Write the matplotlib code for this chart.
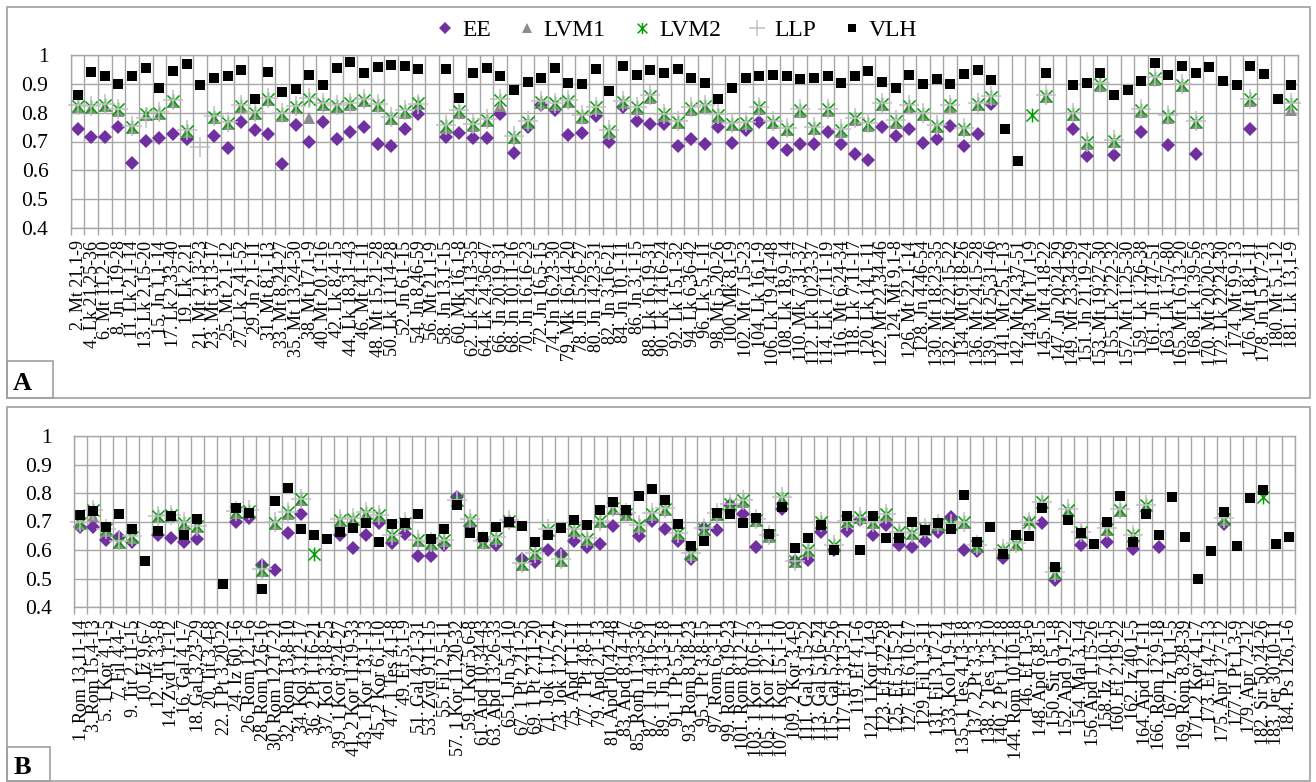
import numpy as np
import matplotlib
matplotlib.use('Agg')
import matplotlib.pyplot as plt
from matplotlib.path import Path
from matplotlib.patches import Rectangle

plt.rcParams['font.family'] = ['Liberation Serif', 'DejaVu Serif']

N = None

# ---- panel A: gospel readings
labels_a = [
    '2. Mt 21,1-9', '4. Lk 21,25-36', '6. Mt 11,2-10', '8. Jn 1,19-28', '11. Lk 2,1-14',
    '13. Lk 2,15-20', '15. Jn 1,1-14', '17. Lk 2,33-40', '19. Lk 2,21', '21. Mt 2,13-23',
    '23. Mt 3,13-17', '25. Mt 2,1-12', '27. Lk 2,41-52', '29. Jn 2,1-11', '31. Mt 8,1-13',
    '33. Mt 8,24-27', '35. Mt 13,24-30', '38. Mt 17,1-9', '40. Mt 20,1-16', '42. Lk 8,4-15',
    '44. Lk 18,31-43', '46. Mt 4,1-11', '48. Mt 15,21-28', '50. Lk 11,14-28', '52. Jn 6,1-15',
    '54. Jn 8,46-59', '56. Mt 21,1-9', '58. Jn 13,1-15', '60. Mk 16,1-8', '62. Lk 24,13-35',
    '64. Lk 24,36-47', '66. Jn 20,19-31', '68. Jn 10,11-16', '70. Jn 16,16-23', '72. Jn 16,5-15',
    '74. Jn 16,23-30', '79. Mk 16,14-20', '78. Jn 15,26-27', '80. Jn 14,23-31', '82. Jn 3,16-21',
    '84. Jn 10,1-11', '86. Jn 3,1-15', '88. Lk 16,19-31', '90. Lk 14,16-24', '92. Lk 15,1-32',
    '94. Lk 6,36-42', '96. Lk 5,1-11', '98. Mt 5,20-26', '100. Mk 8,1-9', '102. Mt 7,15-23',
    '104. Lk 16,1-9', '106. Lk 19,41-48', '108. Lk 18,9-14', '110. Mk 7,31-37', '112. Lk 10,23-37',
    '114. Lk 17,11-19', '116. Mt 6,24-34', '118. Lk 7,11-17', '120. Lk 14,1-11', '122. Mt 22,34-46',
    '124. Mt 9,1-8', '126. Mt 22,1-14', '128. Jn 4,46-54', '130. Mt 18,23-35', '132. Mt 22,15-22',
    '134. Mt 9,18-26', '136. Mt 24,15-28', '139. Mt 25,31-46', '141. Mt 25,1-13', '142. Mt 24,37-51',
    '143. Mt 17,1-9', '145. Mt 4,18-22', '147. Jn 20,24-29', '149. Mt 23,34-39', '151. Jn 21,19-24',
    '153. Mt 19,27-30', '155. Lk 2,22-32', '157. Mt 11,25-30', '159. Lk 1,26-38', '161. Jn 1,47-51',
    '163. Lk 1,57-80', '165. Mt 16,13-20', '168. Lk 1,39-56', '170. Mt 20,20-23', '172. Lk 22,24-30',
    '174. Mt 9,9-13', '176. Mt 18,1-11', '178. Jn 15,17-21', '180. Mt 5,1-12', '181. Lk 13,1-9',
]

ee_a = [
    0.743, 0.716, 0.716, 0.750, 0.627, 0.701, 0.713, 0.727, 0.710, N,
    0.720, 0.676, 0.766, 0.740, 0.725, 0.621, 0.757, 0.700, 0.766, 0.709,
    0.732, 0.750, 0.690, 0.684, 0.745, 0.797, N, 0.714, 0.730, 0.713,
    0.713, 0.797, 0.660, 0.751, 0.826, 0.809, 0.724, 0.730, 0.788, 0.699,
    0.818, 0.771, 0.762, 0.762, 0.684, 0.710, 0.690, 0.751, 0.695, 0.739,
    0.768, 0.695, 0.670, 0.693, 0.693, 0.733, 0.690, 0.658, 0.635, 0.750,
    0.718, 0.745, 0.695, 0.709, 0.753, 0.686, 0.727, 0.829, N, N,
    N, N, N, 0.743, 0.651, N, 0.652, N, 0.734, N,
    0.689, N, 0.656, N, N, N, 0.744, N, N, N,
]

lvm1_a = [
    0.818, 0.815, 0.822, 0.806, 0.747, 0.792, 0.796, 0.836, 0.732, N,
    0.781, 0.760, 0.818, 0.795, 0.845, 0.790, 0.815, 0.783, 0.825, 0.818,
    0.828, 0.840, 0.822, 0.778, 0.800, 0.830, N, 0.748, 0.800, 0.754,
    0.771, 0.823, 0.712, 0.763, 0.833, 0.828, 0.836, 0.783, 0.813, 0.731,
    0.833, 0.813, 0.852, 0.789, 0.763, 0.810, 0.818, 0.786, 0.757, 0.760,
    0.813, 0.763, 0.740, 0.804, 0.742, 0.806, 0.734, 0.775, 0.755, 0.825,
    0.765, 0.818, 0.791, 0.750, 0.820, 0.739, 0.826, 0.849, N, N,
    N, 0.853, N, 0.791, 0.692, 0.894, 0.698, N, 0.803, 0.915,
    0.783, 0.891, 0.764, N, N, N, 0.841, N, N, 0.810,
]

lvm2_a = [
    0.823, 0.820, 0.826, 0.811, 0.751, 0.797, 0.800, 0.840, 0.736, N,
    0.786, 0.765, 0.823, 0.800, 0.849, 0.795, 0.820, 0.847, 0.830, 0.823,
    0.832, 0.844, 0.826, 0.782, 0.805, 0.835, N, 0.753, 0.805, 0.759,
    0.776, 0.844, 0.716, 0.768, 0.838, 0.832, 0.841, 0.788, 0.818, 0.736,
    0.838, 0.818, 0.857, 0.794, 0.768, 0.815, 0.823, 0.791, 0.762, 0.765,
    0.818, 0.768, 0.745, 0.809, 0.747, 0.811, 0.739, 0.780, 0.760, 0.830,
    0.770, 0.823, 0.796, 0.755, 0.825, 0.744, 0.831, 0.854, N, N,
    0.791, 0.858, N, 0.796, 0.697, 0.899, 0.703, N, 0.808, 0.920,
    0.788, 0.896, 0.769, N, N, N, 0.846, N, N, 0.831,
]

llp_a = [
    0.826, 0.823, 0.829, 0.814, 0.754, 0.783, 0.803, 0.843, 0.739, 0.680,
    0.789, 0.768, 0.826, 0.803, 0.852, 0.798, 0.823, 0.850, 0.833, 0.826,
    0.835, 0.847, 0.829, 0.785, 0.808, 0.830, N, 0.756, 0.808, 0.762,
    0.779, 0.847, 0.719, 0.771, 0.841, 0.835, 0.844, 0.791, 0.821, 0.739,
    0.841, 0.821, 0.860, 0.797, 0.771, 0.818, 0.826, 0.794, 0.765, 0.768,
    0.821, 0.771, 0.748, 0.812, 0.750, 0.814, 0.742, 0.783, 0.763, 0.833,
    0.773, 0.826, 0.799, 0.758, 0.828, 0.747, 0.834, 0.857, N, N,
    N, 0.861, N, 0.799, 0.700, 0.902, 0.706, N, 0.811, 0.923,
    0.791, 0.899, 0.772, N, N, N, 0.849, N, N, 0.834,
]

vlh_a = [
    0.863, 0.942, 0.926, 0.900, 0.926, 0.956, 0.885, 0.944, 0.969, 0.895,
    0.921, 0.926, 0.948, 0.849, 0.940, 0.870, 0.881, 0.929, 0.895, 0.956,
    0.976, 0.937, 0.959, 0.964, 0.962, 0.952, N, 0.950, 0.852, 0.937,
    0.955, 0.926, 0.877, 0.908, 0.921, 0.956, 0.902, 0.900, 0.952, 0.875,
    0.963, 0.929, 0.947, 0.936, 0.951, 0.921, 0.903, 0.848, 0.885, 0.919,
    0.926, 0.929, 0.927, 0.918, 0.919, 0.927, 0.903, 0.926, 0.944, 0.906,
    0.886, 0.932, 0.901, 0.918, 0.901, 0.935, 0.948, 0.913, 0.745, 0.632,
    N, 0.939, N, 0.897, 0.902, 0.939, 0.860, 0.878, 0.909, 0.972,
    0.932, 0.962, 0.938, 0.957, 0.911, 0.895, 0.962, 0.934, 0.847, 0.895,
]

# ---- panel B: epistle readings
labels_b = [
    '1. Rom 13,11-14', '3. Rom 15,4-13', '5. 1 Kor 4,1-5', '7. Fil 4,4-7', '9. Tit 2,11-15',
    '10. Iz 9,6-7', '12. Tit 3,3-8', '14. Zyd 1,1-12', '16. Gal 4,1-7', '18. Gal 3,23-29',
    '20. Tit 3,4-8', '22. 1 Pt 3,20-22', '24. Iz 60,1-6', '26. Rom 12,1-6', '28. Rom 12,6-16',
    '30. Rom 12,17-21', '32. Rom 13,8-10', '34. Kol 3,12-17', '36. 2 Pt 1,16-21', '37. Kol 3,18-25',
    '39. 1 Kor 9,24-27', '41. 2 Kor 11,19-33', '43. 1 Kor 13,1-13', '45. 2 Kor 6,1-10', '47. 1 Tes 4,1-8',
    '49. Ef 5,1-9', '51. Gal 4,21-31', '53. Zyd 9,11-15', '55. Fil 2,5-11', '57. 1 Kor 11,20-32',
    '59. 1 Kor 5,6-8', '61. Apd 10,34-43', '63. Apd 13,26-33', '65. 1 Jn 5,4-10', '67. 1 Pt 2,21-25',
    '69. 1 Pt 2,11-20', '71. Jok 1,17-21', '73. Jok 1,22-27', '75. Apd 1,1-11', '77. 1 Pt 4,8-11',
    '79. Apd 2,1-13', '81. Apd 10,42-48', '83. Apd 8,14-17', '85. Rom 11,33-36', '87. 1 Jn 4,16-21',
    '89. 1 Jn 3,13-18', '91. 1 Pt 5,5-11', '93. Rom 8,18-23', '95. 1 Pt 3,8-15', '97. Rom 6,3-11',
    '99. Rom 6,19-23', '101. Rom 8,12-17', '103. 1 Kor 10,6-13', '105. 1 Kor 12,1-11', '107. 1 Kor 15,1-10',
    '109. 2 Kor 3,4-9', '111. Gal 3,15-22', '113. Gal 5,16-24', '115. Gal 5,25-26', '117. Ef 3,13-21',
    '119. Ef 4,1-6', '121. 1 Kor 1,4-9', '123. Ef 4,22-28', '125. Ef 5,15-21', '127. Ef 6,10-17',
    '129. Fil 1,3-11', '131. Fil 3,17-21', '133. Kol 1,9-14', '135. 1 Tes 4,13-18', '137. 2 Pt 3,3-13',
    '138. 2 Tes 1,3-10', '140. 2 Pt 1,12-18', '144. Rom 10,10-18', '146. Ef 1,3-6', '148. Apd 6,8-15',
    '150. Sir 15,1-8', '152. Apd 9,1-22', '154. Mal 3,1-4', '156. Apd 1,15-26', '158. Iz 7,10-15',
    '160. Ef 2,19-22', '162. Iz 40,1-5', '164. Apd 12,1-11', '166. Rom 12,9-18', '167. Iz 11,1-5',
    '169. Rom 8,28-39', '171. 2 Kor 4,1-7', '173. Ef 4,7-13', '175. Apr 12,7-12', '177. 1 Pt 1,3-9',
    '179. Apr 7,2-12', '182. Sir 50,24-26', '183. Jer 30,10-11', '184. Ps 126,1-6',
]

ee_b = [
    0.681, 0.679, 0.634, 0.646, 0.628, N, 0.652, 0.642, 0.628, 0.638,
    N, N, 0.699, 0.713, 0.546, 0.531, 0.660, 0.726, N, N,
    0.652, 0.607, 0.652, 0.693, 0.623, 0.655, 0.578, 0.578, 0.617, 0.785,
    0.683, 0.634, 0.616, 0.700, 0.568, 0.557, 0.600, 0.586, 0.631, 0.610,
    0.622, 0.684, 0.727, 0.650, 0.703, 0.674, 0.633, 0.568, 0.676, 0.671,
    0.758, 0.727, 0.612, 0.651, 0.745, 0.563, 0.565, 0.663, 0.600, 0.667,
    0.707, 0.651, 0.687, 0.618, 0.612, 0.632, 0.663, 0.715, 0.600, 0.596,
    N, 0.572, N, N, 0.694, 0.495, N, 0.616, N, 0.628,
    N, 0.604, N, 0.610, N, N, N, N, 0.690, N,
    N, N, N, N,
]

lvm1_b = [
    0.692, 0.720, 0.668, 0.624, 0.642, N, 0.715, 0.718, 0.691, 0.679,
    N, N, 0.730, 0.733, 0.527, 0.691, 0.728, 0.774, N, N,
    0.703, 0.706, 0.726, 0.718, 0.648, 0.691, 0.630, 0.621, 0.630, 0.771,
    0.703, 0.624, 0.639, 0.699, 0.547, 0.585, 0.667, 0.561, 0.667, 0.636,
    0.697, 0.744, 0.723, 0.682, 0.723, 0.741, 0.655, 0.582, 0.670, 0.724,
    0.756, 0.770, 0.703, 0.647, 0.780, 0.557, 0.595, 0.694, 0.612, 0.697,
    0.711, 0.694, 0.721, 0.658, 0.655, 0.671, 0.686, 0.686, 0.694, 0.610,
    N, 0.605, 0.617, 0.705, 0.764, 0.517, 0.737, 0.658, N, 0.670,
    0.737, 0.647, 0.753, N, N, N, N, N, 0.706, N,
    N, N, N, N,
]

lvm2_b = [
    0.695, 0.740, 0.672, 0.628, 0.646, N, 0.719, 0.722, 0.695, 0.683,
    N, N, 0.734, 0.737, 0.531, 0.695, 0.732, 0.778, 0.585, N,
    0.707, 0.710, 0.730, 0.722, 0.652, 0.695, 0.634, 0.625, 0.634, 0.775,
    0.707, 0.628, 0.643, 0.703, 0.551, 0.589, 0.671, 0.565, 0.671, 0.640,
    0.701, 0.748, 0.727, 0.686, 0.727, 0.745, 0.659, 0.586, 0.674, 0.728,
    0.760, 0.774, 0.707, 0.651, 0.784, 0.561, 0.599, 0.698, 0.616, 0.701,
    0.715, 0.698, 0.725, 0.662, 0.659, 0.675, 0.690, 0.690, 0.698, 0.614,
    N, 0.600, 0.621, 0.698, 0.768, 0.521, 0.741, 0.662, N, 0.674,
    0.741, 0.651, 0.757, N, N, N, N, N, 0.710, N,
    N, 0.787, N, N,
]

llp_b = [
    0.697, 0.742, 0.674, 0.630, 0.648, N, 0.721, 0.724, 0.697, 0.685,
    N, N, 0.736, 0.739, 0.533, 0.697, 0.734, 0.780, N, N,
    0.709, 0.712, 0.732, 0.724, 0.654, 0.697, 0.636, 0.627, 0.636, 0.777,
    0.709, 0.630, 0.645, 0.705, 0.553, 0.591, 0.673, 0.567, 0.673, 0.642,
    0.703, 0.750, 0.729, 0.688, 0.729, 0.747, 0.661, 0.588, 0.676, 0.730,
    0.762, 0.776, 0.709, 0.653, 0.786, 0.563, 0.601, 0.700, 0.618, 0.703,
    0.717, 0.700, 0.727, 0.664, 0.661, 0.677, 0.692, 0.692, 0.700, 0.616,
    N, 0.602, 0.623, 0.700, 0.770, 0.523, 0.743, 0.664, N, 0.676,
    0.743, 0.653, 0.759, N, N, N, N, N, 0.712, N,
    N, N, N, N,
]

vlh_b = [
    0.722, 0.736, 0.679, 0.725, 0.673, 0.562, 0.666, 0.719, 0.651, 0.708,
    N, 0.479, 0.749, 0.730, 0.462, 0.773, 0.819, 0.672, 0.652, 0.637,
    0.664, 0.678, 0.695, 0.628, 0.690, 0.695, 0.728, 0.640, 0.673, 0.757,
    0.660, 0.646, 0.681, 0.700, 0.685, 0.629, 0.652, 0.678, 0.705, 0.688,
    0.741, 0.767, 0.741, 0.788, 0.815, 0.774, 0.692, 0.614, 0.633, 0.731,
    0.725, 0.695, 0.713, 0.657, 0.750, 0.606, 0.643, 0.689, 0.601, 0.721,
    0.601, 0.718, 0.643, 0.643, 0.700, 0.671, 0.694, 0.674, 0.794, 0.629,
    0.682, 0.586, 0.653, 0.649, 0.749, 0.539, 0.704, 0.659, 0.622, 0.698,
    0.791, 0.629, 0.725, 0.652, 0.787, 0.646, 0.500, 0.596, 0.734, 0.613,
    0.781, 0.810, 0.622, 0.646,
]

series_names = ['EE', 'LVM1', 'LVM2', 'LLP', 'VLH']

W, H = 1316, 782
fig = plt.figure(figsize=(W / 100, H / 100), dpi=100)


def rect_px(x0, y0, x1, y1):
    # pixel box (top-left origin) -> figure fraction
    return [x0 / W, 1 - y1 / H, (x1 - x0) / W, (y1 - y0) / H]


star = Path([(-1, -1), (1, 1), (-1, 1), (1, -1), (0, -1.15), (0, 1.15)],
            [Path.MOVETO, Path.LINETO, Path.MOVETO, Path.LINETO,
             Path.MOVETO, Path.LINETO])

styles = [
    dict(marker='D', ms=7.5, mfc='#7030A0', mec='#7030A0', mew=0),
    dict(marker='^', ms=9, mfc='#8C8C8C', mec='#8C8C8C', mew=0),
    dict(marker=star, ms=10, mfc='none', mec='#00A000', mew=1.1),
    dict(marker='+', ms=14, mec='#C0C0C0', mew=1.1),
    dict(marker='s', ms=7, mfc='black', mec='black', mew=0),
]

grid_c = '#A6A6A6'


def panel(box, labels, *series):
    ax = fig.add_axes(rect_px(*box))
    n = len(labels)
    x = np.arange(n)
    handles = []
    for vals, st in zip(series, styles):
        y = np.array([np.nan if v is None else v for v in vals], dtype=float)
        h, = ax.plot(x, y, ls='none', clip_on=False, **st)
        handles.append(h)
    ax.set_xlim(-0.5, n - 0.5)
    ax.set_ylim(0.4, 1.0)
    ax.set_yticks(np.arange(4, 11) / 10)
    ax.set_yticklabels(['0.4', '0.5', '0.6', '0.7', '0.8', '0.9', '1'], fontsize=15.5)
    ax.set_xticks(x)
    ax.set_xticklabels(labels, rotation=90, fontsize=13, va='top', ha='center')
    ax.set_xticks(np.arange(n + 1) - 0.5, minor=True)
    ax.tick_params(axis='x', which='major', length=0, pad=9)
    ax.tick_params(axis='x', which='minor', length=5, color=grid_c, width=1)
    ax.tick_params(axis='y', length=0, pad=16)
    ax.grid(axis='x', which='minor', color=grid_c, lw=1)
    ax.grid(axis='y', which='major', color=grid_c, lw=1)
    ax.set_axisbelow(True)
    for sp in ax.spines.values():
        sp.set_color(grid_c)
        sp.set_linewidth(1)
    return ax, handles


ax_a, handles = panel((70.7, 55, 1298, 228), labels_a, ee_a, lvm1_a, lvm2_a, llp_a, vlh_a)
ax_b, _ = panel((74, 436, 1295, 607), labels_b, ee_b, lvm1_b, lvm2_b, llp_b, vlh_b)

fig.legend(handles, series_names, loc='center', bbox_to_anchor=(676 / W, 1 - 30 / H),
           ncol=5, frameon=False, fontsize=17, handlelength=0.9, handletextpad=0.25,
           columnspacing=1.1, borderpad=0, markerscale=0.8)

# panel frames and letter boxes
for (x0, y0, x1, y1) in [(7, 7, 1310, 398), (7, 407, 1310, 781), (7, 361, 53, 398), (7, 747, 50, 781)]:
    fig.patches.append(Rectangle((x0 / W, 1 - y1 / H), (x1 - x0) / W, (y1 - y0) / H,
                                 transform=fig.transFigure, fill=False,
                                 edgecolor='#A0A0A0', lw=1.2))
fig.text(22 / W, 1 - 384 / H, 'A', fontsize=19, fontweight='bold', ha='center', va='center')
fig.text(22 / W, 1 - 768 / H, 'B', fontsize=19, fontweight='bold', ha='center', va='center')

fig.savefig('out.png', dpi=100, facecolor='white')
